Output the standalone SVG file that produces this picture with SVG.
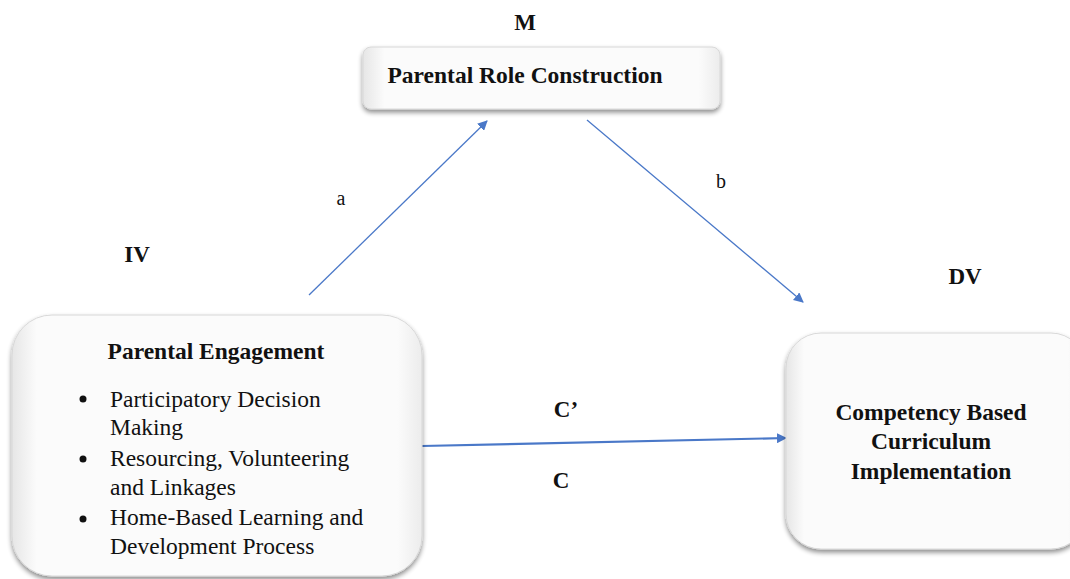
<svg xmlns="http://www.w3.org/2000/svg" width="1070" height="579" viewBox="0 0 1070 579">
<defs>
<style>
text{font-family:'Liberation Serif','DejaVu Serif',serif;fill:#111;}
.b{font-weight:bold;}
.box{fill:url(#fillg);stroke:#d8d8d8;stroke-width:1;filter:url(#sh);}
.ln{stroke:#4A78C8;fill:none;}
</style>
<linearGradient id="fillg" x1="0" y1="0" x2="1" y2="0">
<stop offset="0" stop-color="#e6e6e6"/>
<stop offset="0.06" stop-color="#fbfbfb"/>
<stop offset="0.94" stop-color="#fbfbfb"/>
<stop offset="1" stop-color="#ececec"/>
</linearGradient>
<filter id="sh" x="-10%" y="-10%" width="120%" height="130%">
<feGaussianBlur in="SourceAlpha" stdDeviation="2.5"/>
<feOffset dx="0" dy="3" result="o"/>
<feComponentTransfer><feFuncA type="linear" slope="0.45"/></feComponentTransfer>
<feMerge><feMergeNode/><feMergeNode in="SourceGraphic"/></feMerge>
</filter>
<marker id="ah" markerWidth="10" markerHeight="10" viewBox="0 0 10 10" refX="9" refY="5" orient="auto" markerUnits="userSpaceOnUse">
<path d="M0,0 L10,5 L0,10 z" fill="#4A78C8"/>
</marker>
</defs>
<rect width="1070" height="579" fill="#fff"/>
<text class="b" x="525" y="30" font-size="23" text-anchor="middle">M</text>
<text class="b" x="137" y="262" font-size="23" text-anchor="middle">IV</text>
<text class="b" x="965" y="284" font-size="23" text-anchor="middle">DV</text>
<g id="connectors">
<line class="ln" x1="309" y1="295" x2="487" y2="121" stroke-width="1.3" marker-end="url(#ah)"/>
<line class="ln" x1="587" y1="120" x2="803" y2="302" stroke-width="1.3" marker-end="url(#ah)"/>
<line class="ln" x1="422" y1="446" x2="786" y2="438" stroke-width="2.2" marker-end="url(#ah)"/>
<text x="341" y="205" font-size="20" text-anchor="middle">a</text>
<text x="721" y="188" font-size="20" text-anchor="middle">b</text>
<text class="b" x="566" y="417" font-size="23" text-anchor="middle">C’</text>
<text class="b" x="561" y="488" font-size="23" text-anchor="middle">C</text>
</g>
<g id="node-m">
<rect class="box" x="363" y="47" width="357" height="62" rx="8"/>
<text class="b" x="525" y="83" font-size="23.5" text-anchor="middle">Parental Role Construction</text>
</g>
<g id="node-iv">
<rect class="box" x="12" y="315" width="410" height="261" rx="40"/>
<text class="b" x="216" y="359" font-size="23.5" text-anchor="middle">Parental Engagement</text>
<circle cx="83" cy="399" r="3.5" fill="#111"/>
<text x="110" y="407" font-size="23.5">Participatory Decision</text>
<text x="110" y="435" font-size="23.5">Making</text>
<circle cx="83" cy="459" r="3.5" fill="#111"/>
<text x="110" y="466" font-size="23.5">Resourcing, Volunteering</text>
<text x="110" y="495" font-size="23.5">and Linkages</text>
<circle cx="83" cy="519" r="3.5" fill="#111"/>
<text x="110" y="525" font-size="23.5">Home-Based Learning and</text>
<text x="110" y="554" font-size="23.5">Development Process</text>
</g>
<g id="node-dv">
<rect class="box" x="786" y="333" width="300" height="216" rx="35"/>
<text class="b" x="931" y="420" font-size="23.5" text-anchor="middle">Competency Based</text>
<text class="b" x="931" y="449" font-size="23.5" text-anchor="middle">Curriculum</text>
<text class="b" x="931" y="479" font-size="23.5" text-anchor="middle">Implementation</text>
</g>
</svg>
